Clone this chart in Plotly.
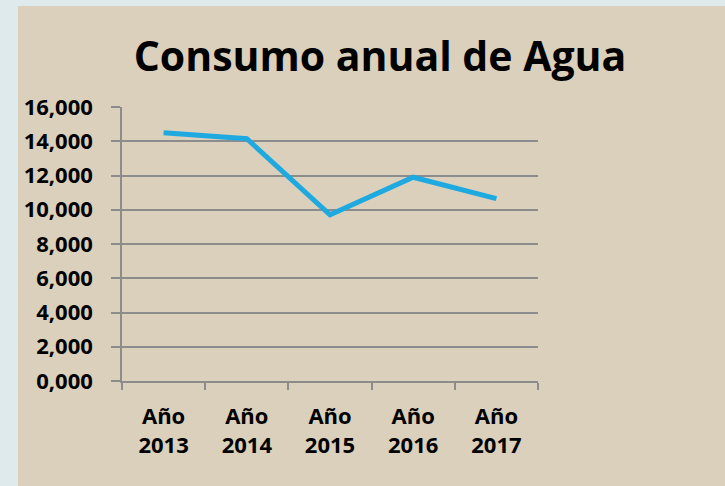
import plotly.graph_objects as go

categories = ["Año<br>2013", "Año<br>2014", "Año<br>2015", "Año<br>2016", "Año<br>2017"]
consumo = [14.50, 14.15, 9.70, 11.90, 10.65]
y_ticks = [0, 2, 4, 6, 8, 10, 12, 14, 16]

W, H = 725, 486
L, R, T, B = 122, 187, 107, 105
pw, ph = W - L - R, H - T - B

fig = go.Figure()
fig.add_trace(go.Scatter(
    x=categories, y=consumo, mode="lines",
    line=dict(color="#1ea9e1", width=5),
    hoverinfo="skip", showlegend=False,
))

# textured-paper style background panel (solid approximation)
fig.add_shape(type="rect", xref="paper", yref="paper",
              x0=(18 - L) / pw, x1=(W - L) / pw,
              y0=(H - B - H) / ph, y1=(H - B - 6) / ph,
              fillcolor="#dad0bb", line=dict(width=0), layer="below")

font_family = "Open Sans"
fig.update_layout(
    width=W, height=H,
    margin=dict(l=L, r=R, t=T, b=B, pad=0),
    paper_bgcolor="#deeaeb",
    plot_bgcolor="rgba(0,0,0,0)",
    separators=",.",
    title=dict(text="Consumo anual de Agua", x=380 / W, xanchor="center",
               y=1 - 57 / H, yanchor="middle",
               font=dict(family=font_family, size=41, color="#000000", weight="bold")),
    xaxis=dict(
        type="category", range=[-0.5, 4.5], showgrid=False, zeroline=False,
        showline=True, linecolor="#8c8c8c", linewidth=1.5,
        ticks="outside", tickson="boundaries", ticklen=7, tickcolor="#8c8c8c", tickwidth=1.5,
        ticklabelstandoff=15,
        tickfont=dict(family=font_family, size=22, color="#000000", weight="bold"),
        fixedrange=True,
    ),
    yaxis=dict(
        range=[0, 16], tickvals=y_ticks, tickformat=".3f",
        showgrid=True, gridcolor="#8c8c8c", gridwidth=1.5, zeroline=False,
        showline=True, linecolor="#8c8c8c", linewidth=1.5,
        ticks="outside", ticklen=9, tickcolor="#8c8c8c", tickwidth=1.5,
        ticklabelstandoff=14,
        tickfont=dict(family=font_family, size=22, color="#000000", weight="bold"),
        fixedrange=True,
    ),
)

fig.write_html("out.html", config={"displayModeBar": False},
               post_script="document.body.style.margin='0';document.body.style.overflow='hidden';")
